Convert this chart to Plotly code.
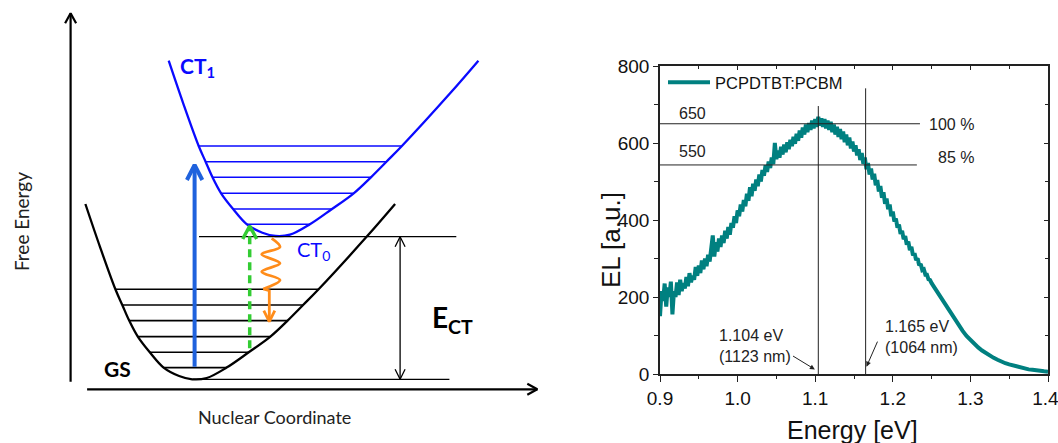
import plotly.graph_objects as go

W, H = 1058, 443

# ---------------- EL spectrum (right panel) ----------------
# noisy part, sampled every 0.002 eV from 0.900 eV
el_noisy = [150, 215, 190, 235, 175, 225, 200, 240, 155, 215,
            200, 238, 205, 245, 215, 236, 222, 252, 228, 262,
            238, 255, 245, 278, 255, 282, 262, 295, 272, 300,
            280, 310, 292, 322, 360, 305, 342, 318, 352, 330,
            360, 340, 372, 352, 382, 362, 392, 380, 410, 392,
            425, 410, 440, 422, 452, 436, 468, 450, 485, 462,
            494, 476, 505, 488, 518, 500, 530, 515, 542, 525,
            552, 535, 562, 545, 600, 558, 580, 562, 590, 570,
            596, 576, 602, 584, 608, 592, 616, 598, 624, 606,
            632, 614, 640, 622, 648, 628, 652, 634, 658, 638,
            662, 642, 668, 645, 664, 642, 662, 638, 658, 634,
            655, 628, 648, 622, 642, 616, 636, 610, 630, 602,
            622, 594, 614, 586, 604, 578, 594, 568, 584, 556,
            574, 546, 562, 532, 548, 518, 534, 505, 520, 490,
            504, 474, 488, 458, 472, 442, 456, 428, 440, 410,
            422, 396, 404, 380, 388, 364, 372, 350, 358, 336,
            344, 322, 330, 308, 314, 296, 300, 282, 286, 270,
            272, 258, 258, 246, 244]
energy_noisy = [round(0.900 + 0.002 * i, 3) for i in range(len(el_noisy))]
# smooth high-energy tail
energy_tail = [1.250, 1.255, 1.260, 1.265, 1.270, 1.275, 1.280, 1.285, 1.290, 1.295,
               1.300, 1.305, 1.310, 1.315, 1.320, 1.325, 1.330, 1.335, 1.340, 1.345,
               1.350, 1.355, 1.360, 1.365, 1.370, 1.375, 1.380, 1.385, 1.390, 1.395, 1.400]
el_tail = [236, 220, 205, 190, 174, 158, 142, 126, 112, 99,
           88, 78, 69, 61, 54, 48, 42, 37, 32, 28,
           25, 22, 19, 16, 14, 12, 11, 9, 8, 7, 6]
series_name = "PCPDTBT:PCBM"

x_ticks = [0.9, 1.0, 1.1, 1.2, 1.3, 1.4]
x_ticktext = ["0.9", "1.0", "1.1", "1.2", "1.3", "1.4\u00a0"]
y_ticks = [0, 200, 400, 600, 800]

level_lines = [650, 543]
level_xend = [1.235, 1.231]
level_labels = ["650", "550"]
pct_labels = ["100 %", "85 %"]
peak_energies = [1.104, 1.165]
peak_yend = [696, 742]
peak_labels = ["1.104 eV<br>(1123 nm)", "1.165 eV<br>(1064 nm)"]

# ---------------- schematic (left panel) ----------------
shape_dq = [-106.8, -92.3, -76.8, -69.9, -63.0, -54.4, -42.4, -28.6, -13.1, 0.0,
            14.5, 34.4, 56.5, 78.2, 95.4, 110.9, 126.4, 174.6, 202.9]
shape_dE = [175.3, 132.7, 90.0, 74.3, 58.7, 42.7, 27.0, 11.7, 3.3, 0.0,
            1.3, 11.7, 27.0, 42.7, 58.7, 74.3, 90.0, 142.7, 175.3]
level_dE = [90.0, 74.3, 58.7, 42.7, 27.0, 11.7]
level_left = [-76.8, -69.9, -63.0, -54.4, -42.4, -28.6]
level_right = [126.4, 110.9, 95.4, 78.2, 56.5, 34.4]
gs_origin = (192.2, 63.7)
ct_origin = (275.5, 207.0)
ct0_energy = 206.3
gs_energy = 63.7

FONT_R = "Liberation Sans, Arial, sans-serif"
FONT_L = "Lato, Open Sans, sans-serif"
TEAL = "#008080"
CT_BLUE = "#0a0aff"
ARROW_BLUE = "#1f62dd"
GREEN = "#33cc33"
ORANGE = "#ff8c1a"

fig = go.Figure()

# ---------- right panel ----------
fig.add_trace(go.Scatter(x=energy_noisy + energy_tail, y=el_noisy + el_tail, mode="lines",
                         name=series_name, line=dict(color=TEAL, width=4),
                         xaxis="x", yaxis="y"))
for v, xe in zip(level_lines, level_xend):
    fig.add_trace(go.Scatter(x=[0.9, xe], y=[v, v], mode="lines", showlegend=False,
                             line=dict(color="#222", width=1), xaxis="x", yaxis="y"))
for e, ye in zip(peak_energies, peak_yend):
    fig.add_trace(go.Scatter(x=[e, e], y=[0, ye], mode="lines", showlegend=False,
                             line=dict(color="#222", width=1), xaxis="x", yaxis="y"))
fig.add_trace(go.Scatter(x=[None], y=[None], xaxis="x3", yaxis="y3", showlegend=False))

lab_font = dict(family=FONT_R, size=16, color="#222")
ann = []
ann.append(dict(x=0.942, y=677, text=level_labels[0], xref="x", yref="y", showarrow=False, font=lab_font))
ann.append(dict(x=0.942, y=577, text=level_labels[1], xref="x", yref="y", showarrow=False, font=lab_font))
ann.append(dict(x=1.276, y=647, text=pct_labels[0], xref="x", yref="y", showarrow=False, font=lab_font))
ann.append(dict(x=1.281, y=562, text=pct_labels[1], xref="x", yref="y", showarrow=False, font=lab_font))
ann.append(dict(x=0.9734, y=73, text=peak_labels[0], xref="x", yref="y", showarrow=False,
                xanchor="left", align="left", font=lab_font))
ann.append(dict(x=1.1876, y=97, text=peak_labels[1], xref="x", yref="y", showarrow=False,
                xanchor="left", align="left", font=lab_font))
ann.append(dict(x=1.0996, y=12, ax=1.0695, ay=49, xref="x", yref="y", axref="x", ayref="y",
                text="", showarrow=True, arrowhead=2, arrowsize=1, arrowwidth=1, arrowcolor="#222"))
ann.append(dict(x=1.1661, y=19, ax=1.1811, ay=88, xref="x", yref="y", axref="x", ayref="y",
                text="", showarrow=True, arrowhead=2, arrowsize=1, arrowwidth=1, arrowcolor="#222"))
ann.append(dict(x=852 / W, y=1 - 430 / H, xref="paper", yref="paper", text="Energy [eV]",
                xanchor="center", yanchor="middle",
                showarrow=False, font=dict(family=FONT_R, size=25, color="#111")))
ann.append(dict(x=611 / W, y=1 - 240 / H, xref="paper", yref="paper", text="EL [a.u.]",
                xanchor="center", yanchor="middle",
                textangle=-90, showarrow=False, font=dict(family=FONT_R, size=26, color="#111")))


# ---------- left panel (schematic) ----------
def add_line(xs, ys, color, width, dash=None, shape="linear"):
    fig.add_trace(go.Scatter(x=xs, y=ys, mode="lines", showlegend=False, hoverinfo="skip",
                             line=dict(color=color, width=width, dash=dash, shape=shape,
                                       smoothing=1.0),
                             xaxis="x2", yaxis="y2"))


def chevron(tx, ty, direction, hw, ln):
    if direction == "up":
        return [tx - hw, tx, tx + hw], [ty - ln, ty, ty - ln]
    if direction == "down":
        return [tx - hw, tx, tx + hw], [ty + ln, ty, ty + ln]
    return [tx - ln, tx, tx - ln], [ty + hw, ty, ty - hw]


add_line([70.6, 70.6], [61.3, 429.7], "#000", 2.2)
cx, cy = chevron(70.6, 429.7, "up", 5.5, 10)
add_line(cx, cy, "#000", 2.2)
add_line([87.1, 537.3], [53.7, 53.7], "#000", 2.2)
cx, cy = chevron(537.3, 53.7, "right", 5.5, 10)
add_line(cx, cy, "#000", 2.2)

for (oq, oe), col in [(gs_origin, "#000"), (ct_origin, CT_BLUE)]:
    add_line([oq + d for d in shape_dq], [oe + d for d in shape_dE], col, 2.3, shape="spline")
    lx, ly = [], []
    for de, l, r in zip(level_dE, level_left, level_right):
        lx += [oq + l, oq + r, None]
        ly += [oe + de, oe + de, None]
    add_line(lx, ly, col, 1.6)

add_line([199.0, 456.3], [ct0_energy, ct0_energy], "#000", 1.3)
add_line([192.9, 449.4], [gs_energy, gs_energy], "#000", 1.3)

add_line([400.1, 400.1], [ct0_energy, gs_energy], "#000", 1.3)
cx, cy = chevron(400.1, ct0_energy, "up", 5, 10)
add_line(cx, cy, "#000", 1.3)
cx, cy = chevron(400.1, gs_energy, "down", 5, 10)
add_line(cx, cy, "#000", 1.3)

add_line([194.6, 194.6], [76.3, 276.5], ARROW_BLUE, 4)
cx, cy = chevron(194.6, 278.0, "up", 7.7, 15)
add_line(cx, cy, ARROW_BLUE, 4)

add_line([249.7, 249.7], [94.7, 216.0], GREEN, 3.5, dash="8px,5px")
cx, cy = chevron(249.7, 217.0, "up", 7, 13)
add_line(cx, cy, GREEN, 3.5)

wave_q = [271.7, 280.0, 261.7, 280.0, 261.7, 280.0, 263.3]
wave_E = [204.7, 196.0, 188.7, 179.7, 171.3, 163.0, 154.0]
add_line(wave_q, wave_E, ORANGE, 2.8, shape="spline")
add_line([263.3, 269.3, 269.3], [154.0, 152.3, 122.5], ORANGE, 2.8)
cx, cy = chevron(269.3, 121.3, "down", 5.5, 11)
add_line(cx, cy, ORANGE, 2.8)

ann.append(dict(x=178.0, y=376.3, xref="x2", yref="y2", text="<b>CT<sub>1</sub></b>",
                showarrow=False, xanchor="left", font=dict(family=FONT_L, size=21, color=CT_BLUE)))
ann.append(dict(x=295.0, y=193.0, xref="x2", yref="y2", text="CT<sub>0</sub>",
                showarrow=False, xanchor="left", font=dict(family=FONT_L, size=20, color=CT_BLUE)))
ann.append(dict(x=101.5, y=74.7, xref="x2", yref="y2", text="<b>GS</b>",
                showarrow=False, xanchor="left", font=dict(family=FONT_L, size=21, color="#000")))
ann.append(dict(x=429.5, y=124.0, xref="x2", yref="y2", text="<b>E<sub>CT</sub></b>",
                showarrow=False, xanchor="left", font=dict(family=FONT_L, size=28, color="#000")))
ann.append(dict(x=21.4, y=221.3, xref="x2", yref="y2", text="Free Energy", textangle=-90,
                showarrow=False, font=dict(family=FONT_L, size=19, color="#222")))
ann.append(dict(x=274.0, y=26.3, xref="x2", yref="y2", text="Nuclear Coordinate",
                showarrow=False, font=dict(family=FONT_L, size=18, color="#222")))

xdom = [660 / W, 1048 / W]
ydom = [(H - 374) / H, (H - 66) / H]
axis_common = dict(showgrid=False, zeroline=False, showline=True, linecolor="#222", linewidth=1.5)

fig.update_layout(
    width=W, height=H, margin=dict(l=0, r=0, t=0, b=0, autoexpand=False),
    paper_bgcolor="white", plot_bgcolor="rgba(0,0,0,0)",
    showlegend=True,
    legend=dict(x=663 / W, y=1 - 65 / H, xanchor="left", yanchor="top",
                bgcolor="rgba(0,0,0,0)", itemwidth=42,
                font=dict(family=FONT_R, size=16.5, color="#111")),
    xaxis=dict(domain=xdom, range=[0.9, 1.4], anchor="y", tickvals=x_ticks, ticktext=x_ticktext,
               ticks="outside", ticklen=6, tickwidth=1.3, tickcolor="#222",
               ticklabeloverflow="allow",
               minor=dict(ticks="outside", dtick=0.05, ticklen=3, tickwidth=1.2, tickcolor="#222"),
               tickfont=dict(family=FONT_R, size=19, color="#111"), **axis_common),
    yaxis=dict(domain=ydom, range=[0, 800], anchor="x", tickvals=y_ticks,
               ticks="outside", ticklen=5, tickwidth=1.3, tickcolor="#222",
               ticklabeloverflow="allow",
               minor=dict(ticks="outside", dtick=100, ticklen=4, tickwidth=1.2, tickcolor="#222"),
               tickfont=dict(family=FONT_R, size=19, color="#111"), **axis_common),
    xaxis3=dict(overlaying="x", anchor="y3", side="top", range=[0.9, 1.4], tickvals=x_ticks,
                showticklabels=False, ticks="inside", ticklen=4, tickwidth=1.2, tickcolor="#222",
                minor=dict(ticks="inside", dtick=0.05, ticklen=3, tickwidth=1.2, tickcolor="#222"),
                **axis_common),
    yaxis3=dict(overlaying="y", anchor="x3", side="right", range=[0, 800], tickvals=y_ticks,
                showticklabels=False, ticks="inside", ticklen=4, tickwidth=1.2, tickcolor="#222",
                minor=dict(ticks="inside", dtick=100, ticklen=3, tickwidth=1.2, tickcolor="#222"),
                **axis_common),
    xaxis2=dict(domain=[0, 1], range=[0, W], anchor="y2", visible=False, fixedrange=True),
    yaxis2=dict(domain=[0, 1], range=[0, H], anchor="x2", visible=False, fixedrange=True),
    annotations=ann,
)

fig.write_html("out.html", config={"displayModeBar": False},
               post_script="document.body.style.margin='0px';document.body.style.overflow='hidden';")
